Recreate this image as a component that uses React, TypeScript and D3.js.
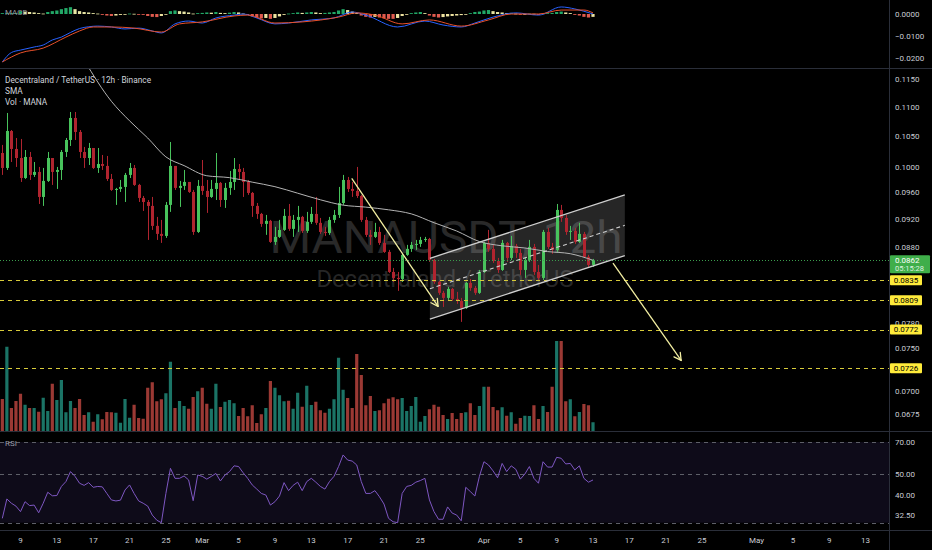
"use client";

import React, { useEffect, useRef } from 'react';
import * as d3 from 'd3';

// 12h Binance candles, first bar opens 7 Feb 00:00 UTC
const firstOpen = 0.10223;

const closes = [
  0.09983, 0.10587, 0.10289, 0.10142, 0.09825, 0.10159, 0.09873, 0.09920, 0.09533, 0.09779,
  0.10142, 0.09920, 0.09951, 0.10240, 0.10437, 0.10809, 0.10571, 0.10240, 0.10142, 0.10305,
  0.09983, 0.10046, 0.10015, 0.09810, 0.09640, 0.09655, 0.09686, 0.09873, 0.09983, 0.09717,
  0.09518, 0.09457, 0.09398, 0.09104, 0.08989, 0.08960, 0.09413, 0.10015, 0.09671, 0.09702,
  0.09763, 0.09609, 0.09017, 0.09702, 0.09625, 0.09533, 0.09655, 0.09748, 0.09487, 0.09671,
  0.09763, 0.09967, 0.09920, 0.09763, 0.09594, 0.09398, 0.09279, 0.09133, 0.09177, 0.08875,
  0.08946, 0.09046, 0.09250, 0.09061, 0.09191, 0.09235, 0.09032, 0.09162, 0.09279, 0.09148,
  0.09017, 0.09003, 0.09191, 0.09264, 0.09442, 0.09794, 0.09655, 0.09625, 0.09548, 0.09191,
  0.08975, 0.08946, 0.09017, 0.08861, 0.08735, 0.08461, 0.08381, 0.08367, 0.08694, 0.08777,
  0.08833, 0.08847, 0.08903, 0.08917, 0.08624, 0.08328, 0.08184, 0.08119, 0.08236, 0.08106,
  0.08080, 0.07991, 0.08315, 0.08249, 0.08184, 0.08461, 0.08861, 0.08777, 0.08610, 0.08488,
  0.08861, 0.08652, 0.08819, 0.08721, 0.08488, 0.08624, 0.08805, 0.08461, 0.08381, 0.09017,
  0.08805, 0.08763, 0.09338, 0.09220, 0.09017, 0.09032, 0.08875, 0.08989, 0.08666, 0.08556,
  0.08620,
];

const highs = [
  0.10355, 0.10895, 0.10604, 0.10470, 0.10454, 0.10272, 0.10240, 0.10078, 0.09999, 0.09983,
  0.10240, 0.10142, 0.09999, 0.10272, 0.10470, 0.10912, 0.10912, 0.10604, 0.10322, 0.10388,
  0.10305, 0.10305, 0.10191, 0.10175, 0.09888, 0.09671, 0.09794, 0.09904, 0.10062, 0.10030,
  0.09733, 0.09548, 0.09487, 0.09533, 0.09235, 0.09191, 0.09457, 0.10404, 0.10015, 0.09779,
  0.09951, 0.09763, 0.09640, 0.09794, 0.10110, 0.09794, 0.09794, 0.10223, 0.09763, 0.09748,
  0.09935, 0.10142, 0.10046, 0.09983, 0.09794, 0.09609, 0.09442, 0.09294, 0.09264, 0.09191,
  0.09090, 0.09191, 0.09353, 0.09427, 0.09264, 0.09398, 0.09250, 0.09309, 0.09383, 0.09533,
  0.09220, 0.09090, 0.09235, 0.09338, 0.09686, 0.09873, 0.09841, 0.09763, 0.09999, 0.09564,
  0.09235, 0.09046, 0.09148, 0.09090, 0.08975, 0.08763, 0.08515, 0.08461, 0.08721, 0.08833,
  0.08875, 0.08903, 0.08946, 0.08946, 0.08932, 0.08638, 0.08341, 0.08210, 0.08262, 0.08249,
  0.08197, 0.08119, 0.08328, 0.08367, 0.08275, 0.08488, 0.08875, 0.09046, 0.08833, 0.08652,
  0.08903, 0.08875, 0.08960, 0.08847, 0.08777, 0.08652, 0.08903, 0.08847, 0.08556, 0.09046,
  0.09075, 0.08861, 0.09427, 0.09413, 0.09264, 0.09104, 0.09075, 0.09148, 0.09017, 0.08694,
  0.08638,
];

const lows = [
  0.09873, 0.09951, 0.10078, 0.09999, 0.09763, 0.09810, 0.09794, 0.09841, 0.09427, 0.09398,
  0.09763, 0.09717, 0.09655, 0.09794, 0.10159, 0.10338, 0.10437, 0.10142, 0.09983, 0.10030,
  0.09967, 0.09904, 0.09951, 0.09779, 0.09625, 0.09413, 0.09609, 0.09457, 0.09825, 0.09702,
  0.09457, 0.09323, 0.08903, 0.09046, 0.08903, 0.08861, 0.08932, 0.09309, 0.09640, 0.09383,
  0.09640, 0.09594, 0.08975, 0.09003, 0.09564, 0.09294, 0.09518, 0.09487, 0.09383, 0.09368,
  0.09564, 0.09640, 0.09794, 0.09533, 0.09564, 0.09235, 0.09206, 0.09090, 0.08975, 0.08861,
  0.08833, 0.08932, 0.09032, 0.09032, 0.08946, 0.09017, 0.09003, 0.09003, 0.09133, 0.09119,
  0.08989, 0.08960, 0.08975, 0.09148, 0.09220, 0.09413, 0.09609, 0.09533, 0.09518, 0.09162,
  0.08946, 0.08833, 0.08932, 0.08833, 0.08721, 0.08448, 0.08328, 0.08210, 0.08328, 0.08680,
  0.08735, 0.08763, 0.08805, 0.08875, 0.08597, 0.08302, 0.08158, 0.08003, 0.08093, 0.08080,
  0.08042, 0.07815, 0.07978, 0.08210, 0.08158, 0.08171, 0.08448, 0.08735, 0.08583, 0.08448,
  0.08475, 0.08597, 0.08624, 0.08652, 0.08421, 0.08381, 0.08597, 0.08421, 0.08354, 0.08354,
  0.08777, 0.08708, 0.08735, 0.09162, 0.08975, 0.08903, 0.08847, 0.08861, 0.08652, 0.08515,
  0.08529,
];

// volume, millions of MANA
const volumes = [
  12.8, 33.7, 9.2, 12.0, 14.9, 10.5, 9.2, 9.2, 7.7, 13.3,
  8.0, 18.9, 12.4, 20.4, 7.5, 12.0, 9.2, 12.8, 6.4, 7.5,
  3.7, 6.7, 4.7, 7.6, 7.5, 7.3, 3.3, 12.8, 5.3, 10.5,
  5.2, 4.9, 17.3, 19.5, 11.9, 12.7, 15.1, 27.7, 9.2, 12.0,
  10.0, 8.9, 13.6, 15.9, 17.3, 10.9, 8.9, 18.9, 9.6, 11.7,
  12.4, 11.1, 6.0, 9.2, 5.9, 10.3, 3.2, 6.7, 9.2, 20.0,
  17.3, 14.3, 11.9, 12.1, 8.9, 15.3, 9.7, 18.1, 10.4, 11.7,
  8.3, 7.3, 8.9, 12.7, 29.3, 16.5, 13.2, 9.2, 30.8, 22.4,
  10.3, 14.0, 8.0, 8.3, 11.1, 12.9, 13.5, 12.7, 13.2, 8.0,
  10.0, 13.6, 3.7, 6.0, 8.7, 10.5, 9.7, 6.4, 4.8, 7.2,
  4.8, 7.2, 7.5, 11.1, 6.4, 10.0, 17.7, 17.7, 9.6, 8.3,
  9.5, 6.1, 7.5, 2.9, 5.2, 6.1, 6.0, 10.3, 4.8, 10.0,
  7.6, 17.7, 36.0, 36.0, 11.9, 12.7, 5.9, 7.6, 10.8, 10.3,
  3.5,
];

const rsi = [
  31.4, 38.5, 36.8, 35.7, 33.7, 37.4, 35.9, 36.1, 33.3, 36.8,
  41.3, 39.8, 39.9, 43.9, 46.2, 51.3, 48.8, 45.4, 44.4, 45.7,
  43.5, 43.9, 43.7, 40.8, 38.1, 37.7, 38.0, 42.3, 44.6, 40.8,
  37.7, 36.8, 35.7, 32.5, 30.8, 30.0, 40.8, 53.1, 47.8, 47.8,
  49.0, 47.0, 37.8, 49.5, 48.8, 47.4, 48.8, 50.3, 46.5, 49.5,
  51.3, 54.5, 54.1, 50.7, 47.8, 44.6, 42.7, 40.8, 40.1, 36.1,
  37.4, 39.7, 45.7, 42.0, 44.4, 45.9, 42.0, 46.2, 47.8, 45.9,
  43.9, 42.7, 46.2, 48.8, 54.1, 61.1, 57.9, 57.3, 55.0, 46.2,
  40.8, 40.8, 42.0, 39.4, 36.5, 31.4, 30.3, 30.0, 40.8, 43.9,
  44.4, 45.9, 46.7, 47.8, 38.1, 33.7, 31.1, 31.1, 35.4, 33.2,
  32.5, 30.6, 43.5, 41.6, 39.7, 48.8, 56.9, 55.0, 51.7, 48.1,
  55.9, 51.3, 54.5, 52.6, 47.4, 50.0, 54.1, 47.8, 45.4, 56.9,
  53.8, 53.8, 59.6, 59.0, 55.6, 55.9, 52.2, 54.5, 47.8, 45.9,
  47.0,
];

const macdHist = [
  0.0004, 0.0004, 0.0004, 0.0004, 0.0013, 0.0011, 0.0009, 0.0007, 0.0004, 0.0002,
  0.0009, 0.0013, 0.0016, 0.0022, 0.0027, 0.0031, 0.0022, 0.0013, 0.0009, 0.0007,
  0.0004, 0.0002, -0.0004, -0.0007, -0.0009, -0.0007, -0.0004, -0.0002, 0.0002, 0.0001,
  -0.0002, -0.0004, -0.0009, -0.0013, -0.0014, -0.0009, -0.0002, 0.0013, 0.0016, 0.0013,
  0.0011, 0.0007, 0.0002, 0.0004, 0.0005, 0.0007, 0.0006, 0.0009, 0.0005, 0.0004,
  0.0006, 0.0009, 0.0007, 0.0002, -0.0004, -0.0011, -0.0016, -0.0020, -0.0018, -0.0022,
  -0.0018, -0.0011, -0.0004, 0.0002, 0.0004, 0.0007, 0.0005, 0.0007, 0.0009, 0.0007,
  0.0004, 0.0005, 0.0007, 0.0009, 0.0016, 0.0022, 0.0018, 0.0011, 0.0004, -0.0007,
  -0.0013, -0.0016, -0.0013, -0.0016, -0.0020, -0.0022, -0.0022, -0.0018, -0.0009, -0.0002,
  0.0004, 0.0007, 0.0009, 0.0004, -0.0007, -0.0013, -0.0016, -0.0014, -0.0011, -0.0009,
  -0.0007, -0.0005, -0.0002, 0.0004, 0.0009, 0.0011, 0.0016, 0.0018, 0.0013, 0.0009,
  0.0007, 0.0004, 0.0005, 0.0002, -0.0002, -0.0001, 0.0002, 0.0001, -0.0002, 0.0002,
  0.0004, 0.0005, 0.0009, 0.0011, 0.0007, 0.0004, -0.0004, -0.0007, -0.0013, -0.0016,
  -0.0013,
];

// [bar index, value]
const smaPts: [number, number][] = [
  [18, 0.1185], [24, 0.1110], [28, 0.1076], [32, 0.1047], [36, 0.1016], [40, 0.1002],
  [45, 0.0986], [50, 0.0983], [55, 0.0976], [60, 0.0969], [65, 0.0959], [70, 0.0949],
  [75, 0.0941], [80, 0.0938], [85, 0.0934], [90, 0.0928], [95, 0.0915], [100, 0.0903],
  [105, 0.0888], [110, 0.0882], [115, 0.0879], [120, 0.0874], [125, 0.0871], [130, 0.0862],
];

const macdPts: [number, number][] = [
  [0, -0.0218], [2, -0.0175], [4, -0.0164], [7, -0.0150], [9, -0.0141], [11, -0.0118],
  [13, -0.0105], [15, -0.0084], [17, -0.0066], [19, -0.0058], [21, -0.0055], [24, -0.0059],
  [27, -0.0068], [30, -0.0064], [33, -0.0077], [35, -0.0086], [38, -0.0045], [41, -0.0032],
  [44, -0.0041], [47, -0.0018], [51, -0.0005], [53, 0.0], [56, -0.0018], [60, -0.0045],
  [63, -0.0041], [68, -0.0027], [73, -0.0018], [77, 0.0009], [80, -0.0005], [87, -0.0059],
  [93, -0.0032], [97, -0.0050], [101, -0.0059], [104, -0.0041], [108, -0.0014], [113, 0.0005],
  [118, -0.0005], [123, 0.0032], [126, 0.0023], [130, 0.0],
];

const signalPts: [number, number][] = [
  [0, -0.0218], [4, -0.0177], [9, -0.0155], [14, -0.0105], [17, -0.0077], [20, -0.0059],
  [24, -0.0059], [29, -0.0064], [35, -0.0082], [39, -0.0045], [44, -0.0036], [51, -0.0009],
  [54, -0.0005], [60, -0.0041], [66, -0.0036], [74, -0.0014], [78, 0.0005], [82, -0.0005],
  [88, -0.0045], [94, -0.0027], [101, -0.0055], [107, -0.0027], [112, 0.0], [118, 0.0],
  [123, 0.0018], [128, 0.0018], [130, 0.0005],
];

const priceTicks = [0.115, 0.11, 0.105, 0.1, 0.096, 0.092, 0.088, 0.078, 0.075, 0.07, 0.0675];
const macdTicks = [0, -0.01, -0.02];
const rsiTicks = [70, 50, 40, 32.5];
const rsiLevels = [70, 50, 30];
const levels = [0.0835, 0.0809, 0.0772, 0.0726];
const countdown = '05:15:28';
const dateTicks = [
  '2019-02-09', '2019-02-13', '2019-02-17', '2019-02-21', '2019-02-25', '2019-03-01',
  '2019-03-05', '2019-03-09', '2019-03-13', '2019-03-17', '2019-03-21', '2019-03-25',
  '2019-04-01', '2019-04-05', '2019-04-09', '2019-04-13', '2019-04-17', '2019-04-21',
  '2019-04-25', '2019-05-01', '2019-05-05', '2019-05-09', '2019-05-13',
];

// drawings, anchored as [bar index, price]
const channelTop: [number, number][] = [[94.1, 0.08647], [137.0, 0.09563]];
const channelBottom: [number, number][] = [[94.1, 0.07849], [137.0, 0.08683]];
const arrows: [number, number][][] = [
  [[76.9, 0.0982], [95.9, 0.0801]],
  [[134.4, 0.0858], [149.4, 0.0735]],
];

const W = 932;
const H = 550;

const App: React.FC = () => {
  const ref = useRef<SVGSVGElement | null>(null);

  useEffect(() => {
    if (!ref.current) return;
    const svg = d3.select(ref.current);
    svg.selectAll('*').remove();

    const font = "Roboto, 'Liberation Sans', sans-serif";
    const axisX = 889;
    const main = { top: 69, bottom: 431 };
    const macdPane = { top: 0, bottom: 68 };
    const rsiPane = { top: 432, bottom: 530 };
    const green = '#48c35c';
    const red = '#b0242f';
    const textCol = '#c9ccd4';

    const t0 = Date.UTC(2019, 1, 7);
    const barMs = 12 * 3600 * 1000;
    const x = d3.scaleUtc()
      .domain([new Date(Date.UTC(2019, 1, 9)), new Date(Date.UTC(2019, 3, 13))])
      .range([20.5, 593]);
    const xi = (i: number) => x(new Date(t0 + i * barMs));

    const y = d3.scaleLog().domain([0.115, 0.0675]).range([79, 414]);
    const yVol = d3.scaleLinear().domain([0, 36]).range([431, 341]);
    const yMacd = d3.scaleLinear().domain([0, -0.02]).range([14, 58]);
    const yRsi = d3.scaleLog().domain([70, 30]).range([442, 522.7]);

    const opens = closes.map((c, i) => (i === 0 ? firstOpen : closes[i - 1]));
    const up = closes.map((c, i) => c >= opens[i]);
    const idx = d3.range(closes.length);

    svg.append('rect').attr('width', W).attr('height', H).attr('fill', '#000');

    const defs = svg.append('defs');
    const addClip = (id: string, top: number, bottom: number) => {
      defs.append('clipPath').attr('id', id)
        .append('rect').attr('x', 0).attr('y', top)
        .attr('width', axisX).attr('height', bottom - top);
    };
    addClip('clip-main', main.top, main.bottom);
    addClip('clip-macd', macdPane.top, macdPane.bottom);
    addClip('clip-rsi', rsiPane.top, rsiPane.bottom);

    // ---------- main pane ----------
    const g = svg.append('g').attr('clip-path', 'url(#clip-main)');

    g.append('text')
      .attr('x', 446).attr('y', 253)
      .attr('text-anchor', 'middle')
      .attr('font-family', font).attr('font-size', 44)
      .attr('textLength', 353).attr('lengthAdjust', 'spacingAndGlyphs')
      .attr('fill', '#292929')
      .text('MANAUSDT, 12h');
    g.append('text')
      .attr('x', 445).attr('y', 287)
      .attr('text-anchor', 'middle')
      .attr('font-family', font).attr('font-size', 23)
      .attr('textLength', 257).attr('lengthAdjust', 'spacingAndGlyphs')
      .attr('fill', '#262626')
      .text('Decentraland / TetherUS');

    // volume
    g.selectAll('.vol')
      .data(idx)
      .enter()
      .append('rect')
      .attr('x', i => xi(i) - 1.6)
      .attr('width', 3.2)
      .attr('y', i => yVol(volumes[i]))
      .attr('height', i => yVol(0) - yVol(volumes[i]))
      .attr('fill', i => (up[i] ? '#1b7466' : '#9b3934'));

    // channel fill
    const px = (p: [number, number]) => [xi(p[0]), y(p[1])];
    const tl = px(channelTop[0]), tr = px(channelTop[1]);
    const bl = px(channelBottom[0]), br = px(channelBottom[1]);
    g.append('polygon')
      .attr('points', [tl, tr, br, bl].map(p => p.join(',')).join(' '))
      .attr('fill', 'rgba(255,255,255,0.15)');

    // candles
    const candles = g.selectAll('.candle').data(idx).enter().append('g');
    candles.append('line')
      .attr('x1', i => Math.round(xi(i)) + 0.5)
      .attr('x2', i => Math.round(xi(i)) + 0.5)
      .attr('y1', i => y(Math.max(highs[i], opens[i], closes[i])))
      .attr('y2', i => y(Math.min(lows[i], opens[i], closes[i])))
      .attr('stroke', i => (up[i] ? green : red))
      .attr('stroke-width', 1);
    candles.append('rect')
      .attr('x', i => Math.round(xi(i)) + 0.5 - 1.5)
      .attr('width', 3)
      .attr('y', i => y(Math.max(opens[i], closes[i])))
      .attr('height', i => Math.max(1, y(Math.min(opens[i], closes[i])) - y(Math.max(opens[i], closes[i]))))
      .attr('fill', i => (up[i] ? green : red));

    // SMA
    g.append('path')
      .datum(smaPts)
      .attr('d', d3.line<[number, number]>().x(d => xi(d[0])).y(d => y(d[1])).curve(d3.curveMonotoneX))
      .attr('fill', 'none')
      .attr('stroke', '#b4b4b4')
      .attr('stroke-width', 1);

    // horizontal levels
    levels.forEach(v => {
      g.append('line')
        .attr('x1', 0).attr('x2', axisX)
        .attr('y1', Math.round(y(v)) + 0.5).attr('y2', Math.round(y(v)) + 0.5)
        .attr('stroke', '#d8cc3a').attr('stroke-width', 1)
        .attr('stroke-dasharray', '4 4');
    });
    const last = closes[closes.length - 1];
    g.append('line')
      .attr('x1', 0).attr('x2', axisX)
      .attr('y1', Math.round(y(last)) + 0.5).attr('y2', Math.round(y(last)) + 0.5)
      .attr('stroke', '#3a9d4c').attr('stroke-width', 1)
      .attr('stroke-dasharray', '1 2');

    // channel lines
    const chCol = '#cfcfcf';
    [[tl, tr], [bl, br]].forEach(([a, b]) => {
      g.append('line')
        .attr('x1', a[0]).attr('y1', a[1]).attr('x2', b[0]).attr('y2', b[1])
        .attr('stroke', chCol).attr('stroke-width', 1.3);
    });
    g.append('line')
      .attr('x1', tl[0]).attr('y1', (tl[1] + bl[1]) / 2)
      .attr('x2', tr[0]).attr('y2', (tr[1] + br[1]) / 2)
      .attr('stroke', chCol).attr('stroke-width', 1.1)
      .attr('stroke-dasharray', '4 3');

    // arrows
    arrows.forEach(([s, e]) => {
      const a = px(s), b = px(e);
      const ang = Math.atan2(b[1] - a[1], b[0] - a[0]);
      const len = 8;
      g.append('line')
        .attr('x1', a[0]).attr('y1', a[1]).attr('x2', b[0]).attr('y2', b[1])
        .attr('stroke', '#f3efa2').attr('stroke-width', 1.3);
      [-0.5, 0.5].forEach(d => {
        g.append('line')
          .attr('x1', b[0]).attr('y1', b[1])
          .attr('x2', b[0] - len * Math.cos(ang + d)).attr('y2', b[1] - len * Math.sin(ang + d))
          .attr('stroke', '#f3efa2').attr('stroke-width', 1.3)
          .attr('stroke-linecap', 'round');
      });
    });

    // legend
    ['Decentraland / TetherUS · 12h · Binance', 'SMA', 'Vol · MANA'].forEach((t, k) => {
      svg.append('text')
        .attr('x', 5).attr('y', 83 + k * 11)
        .attr('font-family', font).attr('font-size', 8.3)
        .attr('fill', '#d1d4dc')
        .text(t);
    });

    // ---------- MACD pane ----------
    const gm = svg.append('g').attr('clip-path', 'url(#clip-macd)');
    svg.append('text')
      .attr('x', 5).attr('y', 15)
      .attr('font-family', font).attr('font-size', 8)
      .attr('fill', '#9598a1')
      .text('MACD');
    const histColor = (i: number) => {
      const v = macdHist[i];
      const prev = i > 0 ? macdHist[i - 1] : v;
      if (v >= 0) return v >= prev ? '#22a867' : '#e8e6a4';
      return v <= prev ? '#e05a4e' : '#eee3a0';
    };
    gm.selectAll('.hist')
      .data(idx)
      .enter()
      .append('rect')
      .attr('x', i => xi(i) - 1.6)
      .attr('width', 3.2)
      .attr('y', i => Math.min(yMacd(0), yMacd(macdHist[i])))
      .attr('height', i => Math.max(0.8, Math.abs(yMacd(macdHist[i]) - yMacd(0))))
      .attr('fill', histColor);
    const macdLine = d3.line<[number, number]>().x(d => xi(d[0])).y(d => yMacd(d[1])).curve(d3.curveMonotoneX);
    gm.append('path').datum(macdPts).attr('d', macdLine)
      .attr('fill', 'none').attr('stroke', '#2962ff').attr('stroke-width', 1);
    gm.append('path').datum(signalPts).attr('d', macdLine)
      .attr('fill', 'none').attr('stroke', '#e8502a').attr('stroke-width', 1);

    // ---------- RSI pane ----------
    const gr = svg.append('g').attr('clip-path', 'url(#clip-rsi)');
    gr.append('rect')
      .attr('x', 0).attr('width', axisX)
      .attr('y', yRsi(70)).attr('height', yRsi(30) - yRsi(70))
      .attr('fill', '#0e0b19');
    rsiLevels.forEach(v => {
      gr.append('line')
        .attr('x1', 0).attr('x2', axisX)
        .attr('y1', Math.round(yRsi(v)) + 0.5).attr('y2', Math.round(yRsi(v)) + 0.5)
        .attr('stroke', '#5d5f68').attr('stroke-width', 1)
        .attr('stroke-dasharray', '4 4');
    });
    gr.append('path')
      .datum(idx)
      .attr('d', d3.line<number>().x(i => xi(i)).y(i => yRsi(rsi[i])))
      .attr('fill', 'none').attr('stroke', '#7e57c2').attr('stroke-width', 1);
    svg.append('text')
      .attr('x', 5).attr('y', 446)
      .attr('font-family', font).attr('font-size', 8)
      .attr('fill', '#9598a1')
      .text('RSI');

    // ---------- separators ----------
    const sep = '#2a2e39';
    [68.5, 431.5, 530.5].forEach(v => {
      svg.append('line').attr('x1', 0).attr('x2', W).attr('y1', v).attr('y2', v)
        .attr('stroke', sep).attr('stroke-width', 1);
    });
    svg.append('line').attr('x1', axisX + 0.5).attr('x2', axisX + 0.5).attr('y1', 0).attr('y2', H)
      .attr('stroke', sep).attr('stroke-width', 1);

    // ---------- right axis ----------
    const axisText = (v: number, label: string) => {
      svg.append('text')
        .attr('x', 895).attr('y', v)
        .attr('dy', '0.35em')
        .attr('font-family', font).attr('font-size', 8)
        .attr('fill', textCol)
        .text(label);
    };
    priceTicks.forEach(v => axisText(y(v), d3.format('.4f')(v)));
    macdTicks.forEach(v => axisText(yMacd(v), v.toFixed(4).replace('-', '\u2212')));
    rsiTicks.forEach(v => axisText(yRsi(v), v.toFixed(2)));

    levels.forEach(v => {
      const cy = y(v);
      svg.append('rect')
        .attr('x', 890).attr('y', cy - 5)
        .attr('width', 32).attr('height', 10)
        .attr('rx', 1)
        .attr('fill', '#ffeb3b');
      svg.append('text')
        .attr('x', 906).attr('y', cy)
        .attr('dy', '0.35em')
        .attr('text-anchor', 'middle')
        .attr('font-family', font).attr('font-size', 8)
        .attr('fill', '#000')
        .text(d3.format('.4f')(v));
    });

    const ly = y(last);
    svg.append('rect')
      .attr('x', 890).attr('y', ly - 5)
      .attr('width', 40).attr('height', 18)
      .attr('rx', 1)
      .attr('fill', '#3fae4a');
    svg.append('text')
      .attr('x', 895).attr('y', ly)
      .attr('dy', '0.35em')
      .attr('font-family', font).attr('font-size', 8)
      .attr('fill', '#fff')
      .text(d3.format('.4f')(last));
    svg.append('text')
      .attr('x', 895).attr('y', ly + 8.5)
      .attr('dy', '0.35em')
      .attr('font-family', font).attr('font-size', 7.5)
      .attr('fill', '#dff3e0')
      .text(countdown);

    // ---------- time axis ----------
    const months = ['Jan', 'Feb', 'Mar', 'Apr', 'May', 'Jun'];
    dateTicks.forEach(s => {
      const d = new Date(s + 'T00:00:00Z');
      const label = d.getUTCDate() === 1 ? months[d.getUTCMonth()] : String(d.getUTCDate());
      svg.append('text')
        .attr('x', x(d)).attr('y', 543)
        .attr('text-anchor', 'middle')
        .attr('font-family', font).attr('font-size', 8)
        .attr('fill', textCol)
        .text(label);
    });
  }, []);

  return <svg ref={ref} width={W} height={H} style={{ position: 'absolute', left: 0, top: 0 }}></svg>;
};

export default App;
